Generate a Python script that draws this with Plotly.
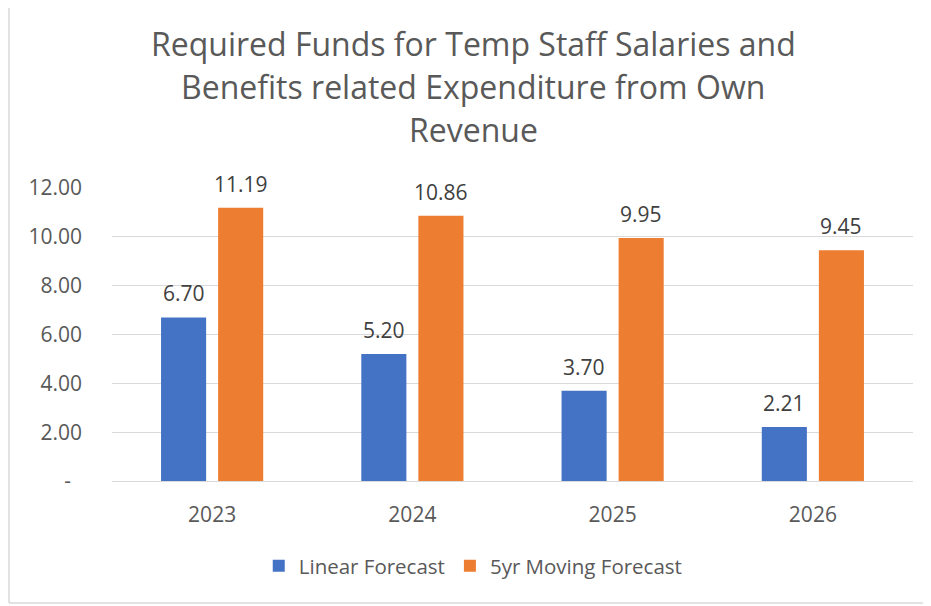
import plotly.graph_objects as go

years = ["2023", "2024", "2025", "2026"]
linear_forecast = [6.70, 5.20, 3.70, 2.21]
moving_forecast = [11.19, 10.86, 9.95, 9.45]
y_tick_vals = [0, 2, 4, 6, 8, 10, 12]
y_tick_text = ["-\u00a0\u00a0", "2.00", "4.00", "6.00", "8.00", "10.00", "12.00"]
title_lines = [
    "Required Funds for Temp Staff Salaries and",
    "Benefits related Expenditure from Own",
    "Revenue",
]

FONT = "Open Sans"
TXT = "#595959"
LBL = "#404040"
PLOT_H = 293.0
PLOT_W = 801.0

fig = go.Figure()
fig.add_trace(go.Bar(name="Linear Forecast", x=years, y=linear_forecast,
                     marker=dict(color="#4472C4", line=dict(width=0))))
fig.add_trace(go.Bar(name="5yr Moving Forecast", x=years, y=moving_forecast,
                     marker=dict(color="#ED7D31", line=dict(width=0))))

annotations = []
for vals, shift in ((linear_forecast, -28.5), (moving_forecast, 28.5)):
    for idx, v in enumerate(vals):
        annotations.append(dict(
            x=idx, y=v, xref="x", yref="y", text=f"{v:.2f}", showarrow=False,
            xshift=shift, yshift=24, xanchor="center", yanchor="middle",
            font=dict(family=FONT, size=21, color=LBL),
        ))

for i, line in enumerate(title_lines):
    annotations.append(dict(
        text=line, xref="paper", yref="paper", x=0.451, y=1 + (145 - 43.5 * i) / PLOT_H,
        xanchor="center", yanchor="middle", showarrow=False,
        font=dict(family=FONT, size=32, color=TXT),
    ))

fig.update_layout(
    width=923, height=598,
    margin=dict(l=104, r=18, t=180, b=125),
    paper_bgcolor="white", plot_bgcolor="white",
    barmode="group", bargap=0.43, bargroupgap=0.21,
    font=dict(family=FONT, color=TXT, size=21),
    showlegend=True,
    legend=dict(orientation="h", x=0.451, xanchor="center", y=-85 / PLOT_H, yanchor="middle",
                font=dict(family=FONT, size=20.5, color=TXT), itemwidth=30,
                traceorder="normal"),
    annotations=annotations,
    xaxis=dict(type="category", range=[-0.5, len(years) - 0.5],
               showgrid=False, showline=True, linecolor="#D9D9D9", linewidth=1,
               tickfont=dict(family=FONT, size=21, color=TXT), ticks="", ticklabelstandoff=15),
    yaxis=dict(range=[0, 12], tickvals=y_tick_vals, ticktext=y_tick_text,
               showgrid=True, gridcolor="#D9D9D9", gridwidth=1, zeroline=False,
               showline=False, ticks="", ticklabelstandoff=29,
               tickfont=dict(family=FONT, size=21, color=TXT)),
    shapes=[
        dict(type="line", xref="paper", yref="paper",
             x0=-103 / PLOT_W, x1=-103 / PLOT_W, y0=-122 / PLOT_H, y1=1 + 190 / PLOT_H,
             line=dict(color="#D9D9D9", width=1.5), layer="below"),
        dict(type="line", xref="paper", yref="paper",
             x0=-103 / PLOT_W, x1=1 + 30 / PLOT_W, y0=-122 / PLOT_H, y1=-122 / PLOT_H,
             line=dict(color="#D9D9D9", width=1.5), layer="below"),
    ],
)

fig.write_html("out.html")
